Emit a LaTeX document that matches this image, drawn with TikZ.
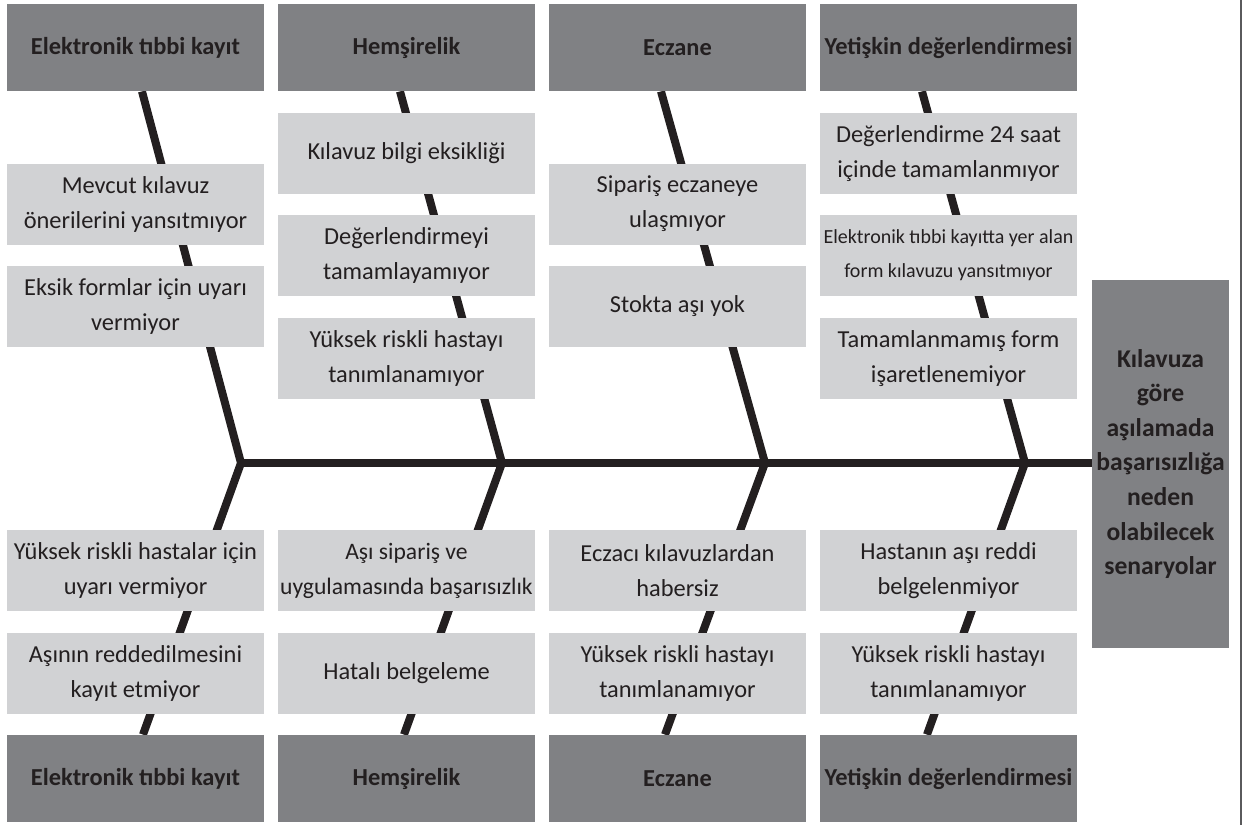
\documentclass[tikz,border=0pt]{standalone}
\usepackage{fontspec}
\setmainfont{Carlito}
\usetikzlibrary{backgrounds}
\definecolor{kutukoyu}{HTML}{808184}
\definecolor{kutuacik}{HTML}{D1D2D4}
\definecolor{murekkep}{HTML}{231F20}
\begin{document}
\begin{tikzpicture}[x=.5pt, y=-.5pt, text=murekkep,
    baslik/.style={fill=kutukoyu, minimum width=128.5pt, minimum height=43.5pt, inner sep=0pt, font=\bfseries\fontsize{12.2}{15}\selectfont},
    neden/.style={fill=kutuacik, minimum width=128.5pt, minimum height=40.5pt, inner sep=0pt, align=center, font=\fontsize{12.2}{17.5}\selectfont},
    kemik/.style={draw=murekkep, line width=4pt}]
  \useasboundingbox (0,0) rectangle (1244,825);
  % ana basliklar, ust ve alt
  \foreach \x/\ad [count=\i] in {135.5/Elektronik tıbbi kayıt, 406.5/Hemşirelik, 677.5/Eczane, 948.5/Yetişkin değerlendirmesi} {
    \node[baslik] (ust\i) at (\x,47.5) {\ad};
    \node[baslik] (alt\i) at (\x,778.5) {\ad};
  }
  % sonuc kutusu
  \node[fill=kutukoyu, minimum width=68.5pt, minimum height=184pt, inner sep=0pt, align=center, font=\bfseries\fontsize{12.8}{17.3}\selectfont] (hedef) at (1160.5,464)
    {Kılavuza\\göre\\aşılamada\\başarısızlığa\\neden\\olabilecek\\senaryolar};
  % ust nedenler
  \node[neden] (e1) at (135.5,204) {Mevcut kılavuz\\önerilerini yansıtmıyor};
  \node[neden] (e2) at (135.5,306) {Eksik formlar için uyarı\\vermiyor};
  \node[neden] (h1) at (406.5,153.5) {Kılavuz bilgi eksikliği};
  \node[neden] (h2) at (406.5,255.5) {Değerlendirmeyi\\tamamlayamıyor};
  \node[neden] (h3) at (406.5,358.5) {Yüksek riskli hastayı\\tanımlanamıyor};
  \node[neden] (c1) at (677.5,204) {Sipariş eczaneye\\ulaşmıyor};
  \node[neden] (c2) at (677.5,306) {Stokta aşı yok};
  \node[neden] (y1) at (948.5,153.5) {Değerlendirme 24 saat\\içinde tamamlanmıyor};
  \node[neden, font=\fontsize{10}{17}\selectfont] (y2) at (948.5,255.5) {Elektronik tıbbi kayıtta yer alan\\form kılavuzu yansıtmıyor};
  \node[neden] (y3) at (948.5,358.5) {Tamamlanmamış form\\işaretlenemiyor};
  % alt nedenler
  \node[neden] (e3) at (135.5,570.5) {Yüksek riskli hastalar için\\uyarı vermiyor};
  \node[neden] (e4) at (135.5,673.5) {Aşının reddedilmesini\\kayıt etmiyor};
  \node[neden, font=\fontsize{11.8}{17.5}\selectfont] (h4) at (406.5,570.5) {Aşı sipariş ve\\uygulamasında başarısızlık};
  \node[neden] (h5) at (406.5,673.5) {Hatalı belgeleme};
  \node[neden] (c3) at (677.5,570.5) {Eczacı kılavuzlardan\\habersiz};
  \node[neden] (c4) at (677.5,673.5) {Yüksek riskli hastayı\\tanımlanamıyor};
  \node[neden] (y4) at (948.5,570.5) {Hastanın aşı reddi\\belgelenmiyor};
  \node[neden] (y5) at (948.5,673.5) {Yüksek riskli hastayı\\tanımlanamıyor};
  % balik kilcigi
  \coordinate (j1) at (241,463);
  \coordinate (j2) at (502,463);
  \coordinate (j3) at (765,463);
  \coordinate (j4) at (1025,463);
  \begin{pgfonlayer}{background}
    \foreach \i/\u/\a in {1/3.25/3.75, 2/-3.25/-1.25, 3/-8.25/-6.25, 4/-13.25/-10.75}
      \draw[kemik] ([xshift=\u pt]ust\i.south) -- (j\i) -- ([xshift=\a pt]alt\i.north);
    \draw[kemik] (j1) -- (j1 -| hedef.west);
  \end{pgfonlayer}
  \draw[kutukoyu!70!black, line width=1pt] (1241,0) -- (1241,825);
\end{tikzpicture}
\end{document}
